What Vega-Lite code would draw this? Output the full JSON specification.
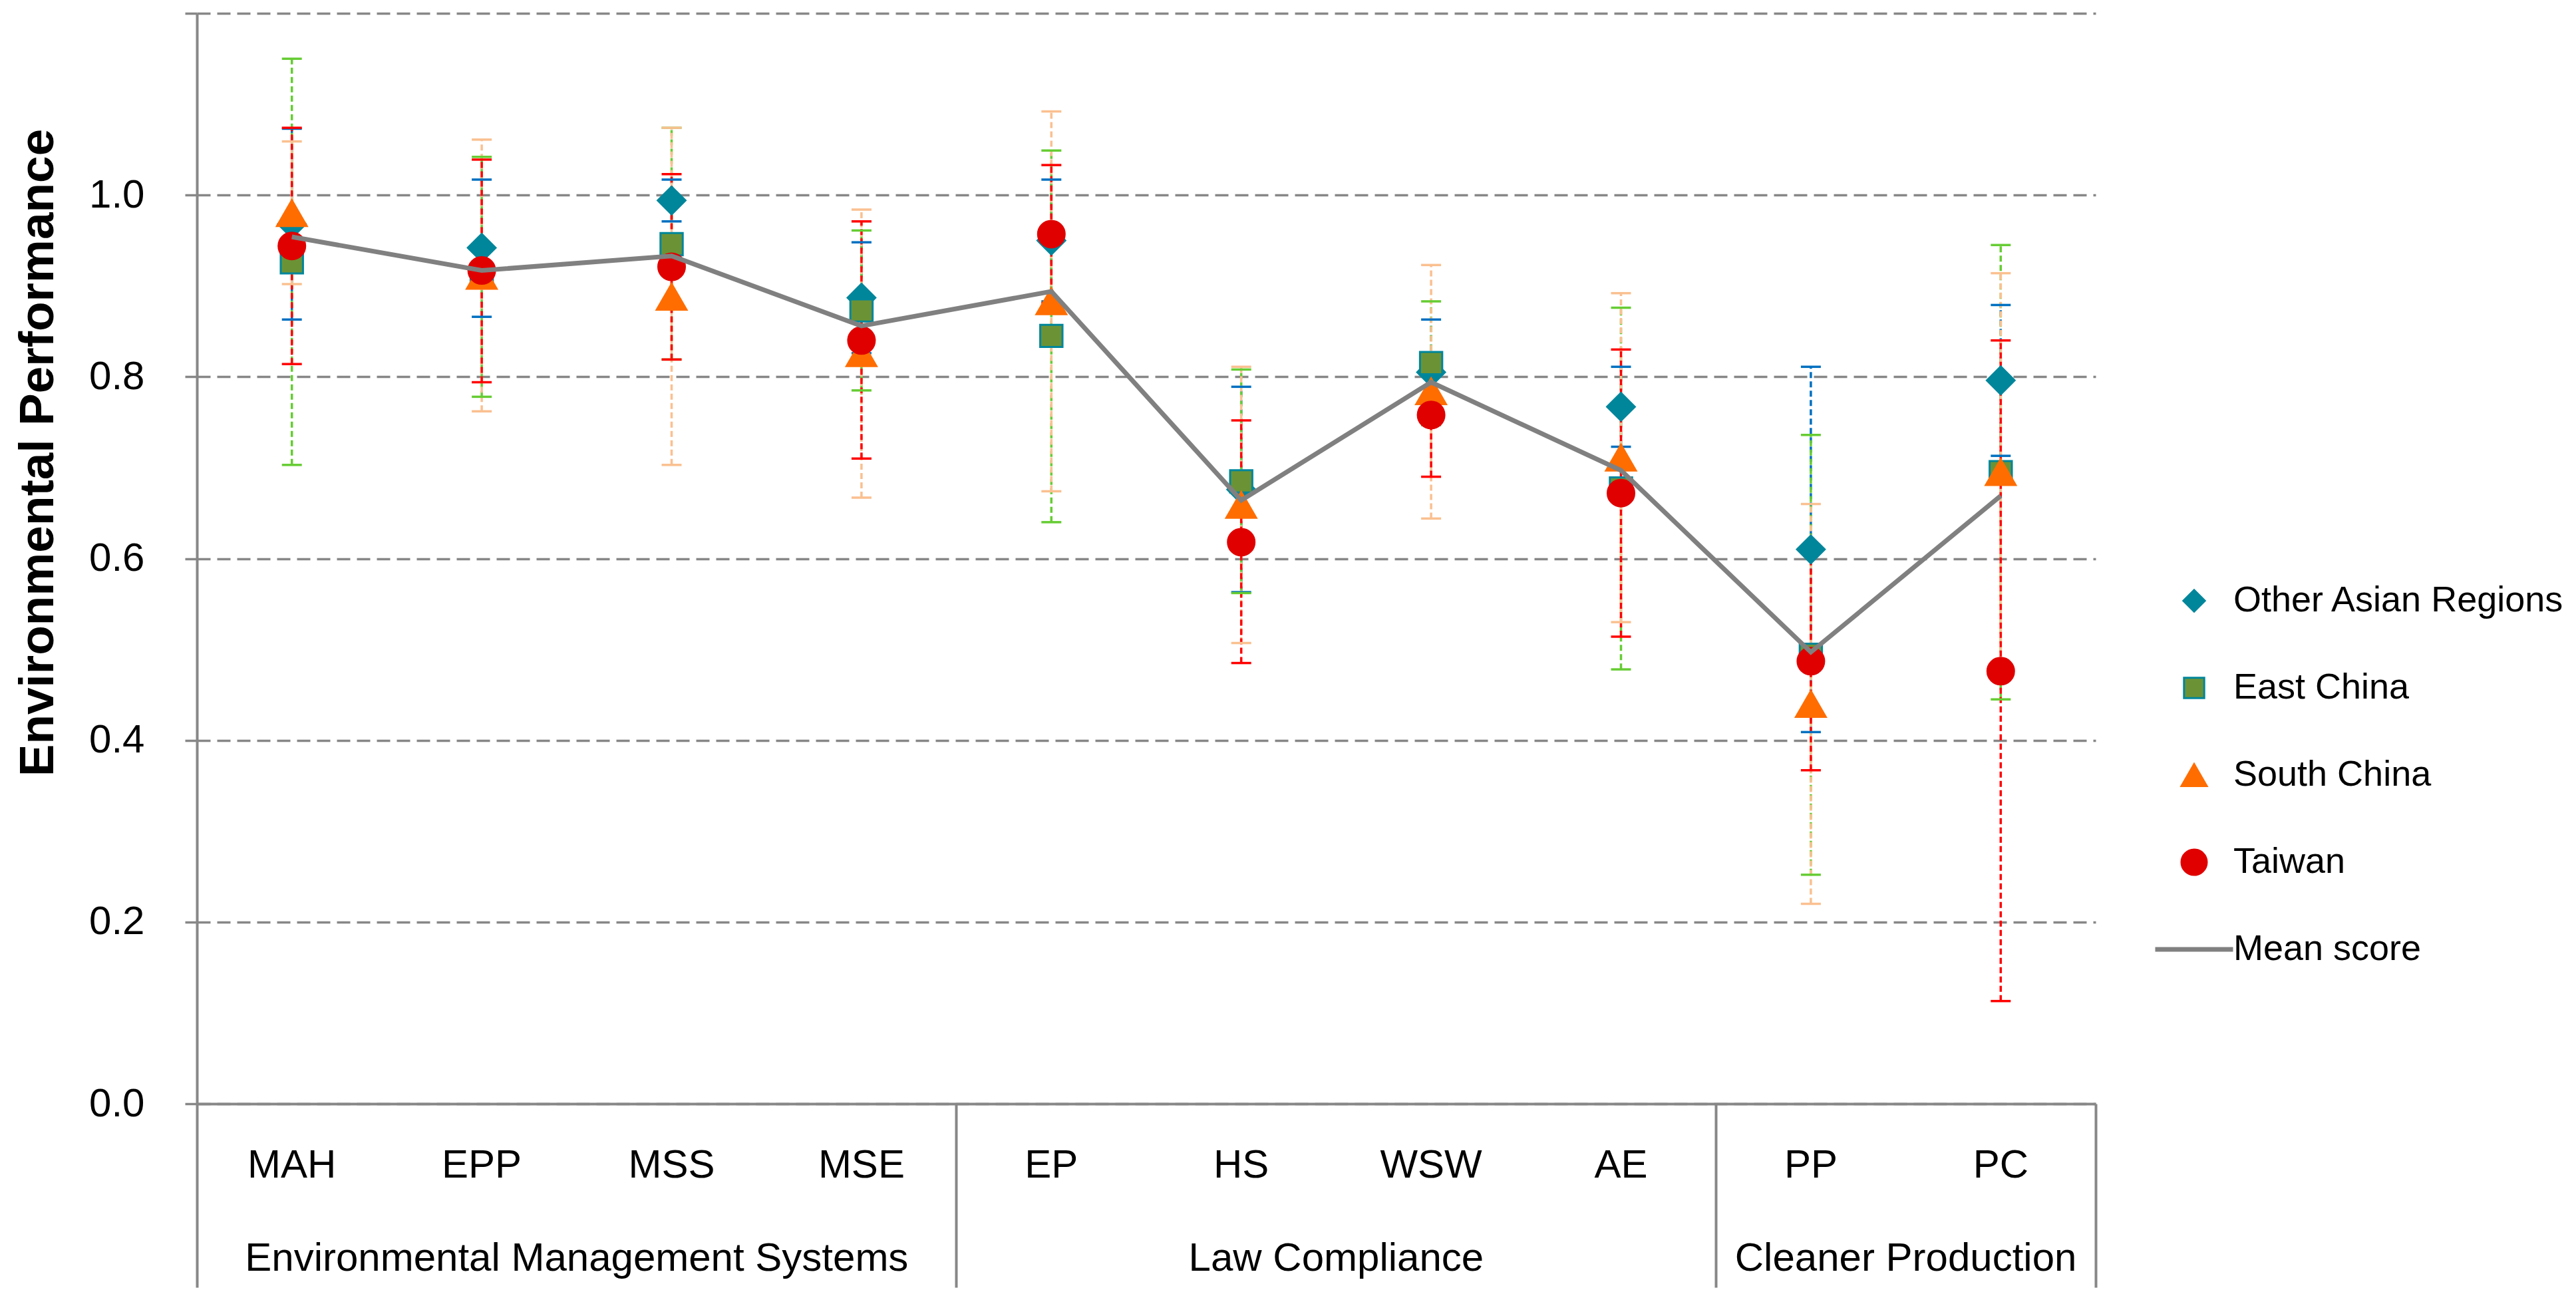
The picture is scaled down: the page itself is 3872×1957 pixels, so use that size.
{
  "$schema": "https://vega.github.io/schema/vega-lite/v6.json",
  "width": 2854,
  "height": 1639,
  "autosize": {"type": "none"},
  "padding": {"left": 296, "top": 20, "right": 722, "bottom": 298},
  "background": "white",
  "config": {"view": {"stroke": null}, "font": "Liberation Sans"},
  "datasets": {
    "pts": [
      {"category": "MAH", "series": "Other Asian Regions", "value": 0.968, "lo": 0.863, "hi": 1.073},
      {"category": "MAH", "series": "East China", "value": 0.926, "lo": 0.703, "hi": 1.150},
      {"category": "MAH", "series": "South China", "value": 0.980, "lo": 0.902, "hi": 1.059},
      {"category": "MAH", "series": "Taiwan", "value": 0.944, "lo": 0.814, "hi": 1.074},
      {"category": "EPP", "series": "Other Asian Regions", "value": 0.942, "lo": 0.866, "hi": 1.017},
      {"category": "EPP", "series": "East China", "value": 0.910, "lo": 0.778, "hi": 1.042},
      {"category": "EPP", "series": "South China", "value": 0.911, "lo": 0.762, "hi": 1.061},
      {"category": "EPP", "series": "Taiwan", "value": 0.917, "lo": 0.794, "hi": 1.039},
      {"category": "MSS", "series": "Other Asian Regions", "value": 0.994, "lo": 0.971, "hi": 1.017},
      {"category": "MSS", "series": "East China", "value": 0.946, "lo": 0.819, "hi": 1.074},
      {"category": "MSS", "series": "South China", "value": 0.888, "lo": 0.703, "hi": 1.074},
      {"category": "MSS", "series": "Taiwan", "value": 0.921, "lo": 0.819, "hi": 1.023},
      {"category": "MSE", "series": "Other Asian Regions", "value": 0.887, "lo": 0.826, "hi": 0.948},
      {"category": "MSE", "series": "East China", "value": 0.873, "lo": 0.785, "hi": 0.961},
      {"category": "MSE", "series": "South China", "value": 0.826, "lo": 0.667, "hi": 0.984},
      {"category": "MSE", "series": "Taiwan", "value": 0.840, "lo": 0.710, "hi": 0.971},
      {"category": "EP", "series": "Other Asian Regions", "value": 0.950, "lo": 0.883, "hi": 1.017},
      {"category": "EP", "series": "East China", "value": 0.845, "lo": 0.640, "hi": 1.049},
      {"category": "EP", "series": "South China", "value": 0.883, "lo": 0.674, "hi": 1.092},
      {"category": "EP", "series": "Taiwan", "value": 0.957, "lo": 0.881, "hi": 1.033},
      {"category": "HS", "series": "Other Asian Regions", "value": 0.676, "lo": 0.563, "hi": 0.789},
      {"category": "HS", "series": "East China", "value": 0.685, "lo": 0.562, "hi": 0.808},
      {"category": "HS", "series": "South China", "value": 0.659, "lo": 0.507, "hi": 0.811},
      {"category": "HS", "series": "Taiwan", "value": 0.618, "lo": 0.485, "hi": 0.752},
      {"category": "WSW", "series": "Other Asian Regions", "value": 0.805, "lo": 0.747, "hi": 0.863},
      {"category": "WSW", "series": "East China", "value": 0.815, "lo": 0.747, "hi": 0.883},
      {"category": "WSW", "series": "South China", "value": 0.784, "lo": 0.644, "hi": 0.923},
      {"category": "WSW", "series": "Taiwan", "value": 0.758, "lo": 0.690, "hi": 0.826},
      {"category": "AE", "series": "Other Asian Regions", "value": 0.767, "lo": 0.723, "hi": 0.811},
      {"category": "AE", "series": "East China", "value": 0.677, "lo": 0.478, "hi": 0.876},
      {"category": "AE", "series": "South China", "value": 0.711, "lo": 0.530, "hi": 0.892},
      {"category": "AE", "series": "Taiwan", "value": 0.672, "lo": 0.514, "hi": 0.830},
      {"category": "PP", "series": "Other Asian Regions", "value": 0.610, "lo": 0.409, "hi": 0.811},
      {"category": "PP", "series": "East China", "value": 0.494, "lo": 0.252, "hi": 0.736},
      {"category": "PP", "series": "South China", "value": 0.440, "lo": 0.220, "hi": 0.660},
      {"category": "PP", "series": "Taiwan", "value": 0.487, "lo": 0.367, "hi": 0.606},
      {"category": "PC", "series": "Other Asian Regions", "value": 0.796, "lo": 0.713, "hi": 0.879},
      {"category": "PC", "series": "East China", "value": 0.695, "lo": 0.445, "hi": 0.945},
      {"category": "PC", "series": "South China", "value": 0.695, "lo": 0.476, "hi": 0.914},
      {"category": "PC", "series": "Taiwan", "value": 0.476, "lo": 0.113, "hi": 0.840}
    ],
    "mean": [
      {"category": "MAH", "mean": 0.954},
      {"category": "EPP", "mean": 0.917},
      {"category": "MSS", "mean": 0.933},
      {"category": "MSE", "mean": 0.856},
      {"category": "EP", "mean": 0.894},
      {"category": "HS", "mean": 0.664},
      {"category": "WSW", "mean": 0.794},
      {"category": "AE", "mean": 0.697},
      {"category": "PP", "mean": 0.497},
      {"category": "PC", "mean": 0.669}
    ]
  },
  "resolve": {"axis": {"x": "independent"}},
  "layer": [
    {
      "data": {"name": "pts"},
      "mark": {"type": "rule", "strokeWidth": 3.5, "strokeDash": [9, 5]},
      "encoding": {
        "x": {"field": "category", "type": "nominal", "scale": {"type": "band", "domain": ["MAH", "EPP", "MSS", "MSE", "EP", "HS", "WSW", "AE", "PP", "PC"], "paddingInner": 0, "paddingOuter": 0}, "axis": null},
        "y": {"field": "lo", "type": "quantitative", "scale": {"domain": [0, 1.2], "nice": false},
          "axis": {"orient": "left", "values": [0, 0.2, 0.4, 0.6, 0.8, 1.0, 1.2], "format": ".1f", "labelExpr": "datum.value > 1.1 ? '' : datum.label",
            "title": "Environmental Performance", "titleFont": "Liberation Sans", "titleFontSize": 73, "titleFontWeight": "bold", "titleColor": "black",
            "titleX": -217, "titleY": 660, "titleAngle": -90, "titleBaseline": "alphabetic", "titleAlign": "center",
            "labelFont": "Liberation Sans", "labelFontSize": 60, "labelColor": "black", "labelPadding": 61,
            "tickSize": 18, "tickColor": "#878787", "tickWidth": 3.5, "domainColor": "#878787", "domainWidth": 4,
            "grid": true, "gridColor": "#878787", "gridDash": [20, 10], "gridWidth": 3.5, "gridOpacity": 1}},
        "y2": {"field": "hi"},
        "stroke": {"condition": [
          {"test": "datum.series === 'Other Asian Regions'", "value": "#0070C0"},
          {"test": "datum.series === 'East China'", "value": "#66CC33"},
          {"test": "datum.series === 'South China'", "value": "#FAC090"}
        ], "value": "#FF0000"}
      }
    },
    {
      "data": {"name": "pts"},
      "mark": {"type": "tick", "orient": "horizontal", "size": 30, "thickness": 3.5, "opacity": 1},
      "encoding": {
        "x": {"field": "category", "type": "nominal", "scale": {"type": "band", "domain": ["MAH", "EPP", "MSS", "MSE", "EP", "HS", "WSW", "AE", "PP", "PC"], "paddingInner": 0, "paddingOuter": 0}, "axis": null},
        "y": {"field": "lo", "type": "quantitative", "scale": {"domain": [0, 1.2], "nice": false},
          "axis": {"orient": "left", "values": [0, 0.2, 0.4, 0.6, 0.8, 1.0, 1.2], "format": ".1f", "labelExpr": "datum.value > 1.1 ? '' : datum.label",
            "title": "Environmental Performance", "titleFont": "Liberation Sans", "titleFontSize": 73, "titleFontWeight": "bold", "titleColor": "black",
            "titleX": -217, "titleY": 660, "titleAngle": -90, "titleBaseline": "alphabetic", "titleAlign": "center",
            "labelFont": "Liberation Sans", "labelFontSize": 60, "labelColor": "black", "labelPadding": 61,
            "tickSize": 18, "tickColor": "#878787", "tickWidth": 3.5, "domainColor": "#878787", "domainWidth": 4,
            "grid": true, "gridColor": "#878787", "gridDash": [20, 10], "gridWidth": 3.5, "gridOpacity": 1}},
        "color": {"condition": [
          {"test": "datum.series === 'Other Asian Regions'", "value": "#0070C0"},
          {"test": "datum.series === 'East China'", "value": "#66CC33"},
          {"test": "datum.series === 'South China'", "value": "#FAC090"}
        ], "value": "#FF0000"}
      }
    },
    {
      "data": {"name": "pts"},
      "mark": {"type": "tick", "orient": "horizontal", "size": 30, "thickness": 3.5, "opacity": 1},
      "encoding": {
        "x": {"field": "category", "type": "nominal", "scale": {"type": "band", "domain": ["MAH", "EPP", "MSS", "MSE", "EP", "HS", "WSW", "AE", "PP", "PC"], "paddingInner": 0, "paddingOuter": 0}, "axis": null},
        "y": {"field": "hi", "type": "quantitative", "scale": {"domain": [0, 1.2], "nice": false},
          "axis": {"orient": "left", "values": [0, 0.2, 0.4, 0.6, 0.8, 1.0, 1.2], "format": ".1f", "labelExpr": "datum.value > 1.1 ? '' : datum.label",
            "title": "Environmental Performance", "titleFont": "Liberation Sans", "titleFontSize": 73, "titleFontWeight": "bold", "titleColor": "black",
            "titleX": -217, "titleY": 660, "titleAngle": -90, "titleBaseline": "alphabetic", "titleAlign": "center",
            "labelFont": "Liberation Sans", "labelFontSize": 60, "labelColor": "black", "labelPadding": 61,
            "tickSize": 18, "tickColor": "#878787", "tickWidth": 3.5, "domainColor": "#878787", "domainWidth": 4,
            "grid": true, "gridColor": "#878787", "gridDash": [20, 10], "gridWidth": 3.5, "gridOpacity": 1}},
        "color": {"condition": [
          {"test": "datum.series === 'Other Asian Regions'", "value": "#0070C0"},
          {"test": "datum.series === 'East China'", "value": "#66CC33"},
          {"test": "datum.series === 'South China'", "value": "#FAC090"}
        ], "value": "#FF0000"}
      }
    },
    {
      "data": {"name": "pts"},
      "mark": {"type": "point", "filled": true, "opacity": 1, "strokeWidth": 3},
      "encoding": {
        "x": {"field": "category", "type": "nominal", "scale": {"type": "band", "domain": ["MAH", "EPP", "MSS", "MSE", "EP", "HS", "WSW", "AE", "PP", "PC"], "paddingInner": 0, "paddingOuter": 0},
          "axis": {"orient": "bottom", "title": null, "domain": false, "ticks": false, "grid": false, "labelAngle": 0, "labelFont": "Liberation Sans", "labelFontSize": 60, "labelColor": "black", "labelPadding": 63, "labelOverlap": false, "labelLimit": 0}},
        "y": {"field": "value", "type": "quantitative", "scale": {"domain": [0, 1.2], "nice": false},
          "axis": {"orient": "left", "values": [0, 0.2, 0.4, 0.6, 0.8, 1.0, 1.2], "format": ".1f", "labelExpr": "datum.value > 1.1 ? '' : datum.label",
            "title": "Environmental Performance", "titleFont": "Liberation Sans", "titleFontSize": 73, "titleFontWeight": "bold", "titleColor": "black",
            "titleX": -217, "titleY": 660, "titleAngle": -90, "titleBaseline": "alphabetic", "titleAlign": "center",
            "labelFont": "Liberation Sans", "labelFontSize": 60, "labelColor": "black", "labelPadding": 61,
            "tickSize": 18, "tickColor": "#878787", "tickWidth": 3.5, "domainColor": "#878787", "domainWidth": 4,
            "grid": true, "gridColor": "#878787", "gridDash": [20, 10], "gridWidth": 3.5, "gridOpacity": 1}},
        "shape": {"field": "series", "type": "nominal",
          "scale": {"domain": ["Other Asian Regions", "East China", "South China", "Taiwan", "Mean score"],
            "range": ["M-0.85,0L0,-0.85L0.85,0L0,0.85Z", "M-0.8,-0.8L0.8,-0.8L0.8,0.8L-0.8,0.8Z", "triangle-up", "circle", "M-3,-0.1L3,-0.1L3,0.1L-3,0.1Z"]},
          "legend": {"title": null, "orient": "none", "legendX": 2975, "legendY": 856, "padding": 0,
            "labelFont": "Liberation Sans", "labelFontSize": 54, "labelColor": "black", "labelLimit": 0,
            "symbolSize": 1444, "labelOffset": 32, "rowPadding": 77, "symbolStrokeWidth": 3, "symbolOpacity": 1}},
        "fill": {"field": "series", "type": "nominal",
          "scale": {"domain": ["Other Asian Regions", "East China", "South China", "Taiwan", "Mean score"], "range": ["#00869B", "#6B9336", "#FF6D00", "#E00000", "#808080"]}},
        "stroke": {"field": "series", "type": "nominal",
          "scale": {"domain": ["Other Asian Regions", "East China", "South China", "Taiwan", "Mean score"], "range": ["#00869B", "#00869B", "#FF6D00", "#E00000", "#808080"]}},
        "size": {"condition": [
          {"test": "datum.series === 'Other Asian Regions'", "value": 2400},
          {"test": "datum.series === 'East China'", "value": 1750},
          {"test": "datum.series === 'South China'", "value": 2000}
        ], "value": 1600}
      }
    },
    {
      "data": {"name": "mean"},
      "mark": {"type": "line", "color": "#808080", "strokeWidth": 7},
      "encoding": {
        "x": {"field": "category", "type": "nominal", "scale": {"type": "band", "domain": ["MAH", "EPP", "MSS", "MSE", "EP", "HS", "WSW", "AE", "PP", "PC"], "paddingInner": 0, "paddingOuter": 0},
          "axis": {"orient": "bottom", "title": null, "values": ["MAH", "EPP", "MSE", "HS", "AE", "PP", "PC"], "bandPosition": 1, "tickExtra": true,
            "labelExpr": "datum.value === 'EPP' ? 'Environmental Management Systems' : datum.value === 'HS' ? 'Law Compliance' : datum.value === 'PP' ? 'Cleaner Production' : ''",
            "labelOffset": 142.7,
            "domain": true, "domainColor": "#878787", "domainWidth": 4,
            "ticks": true, "tickSize": 276, "tickColor": "#878787", "tickWidth": 4,
            "tickOpacity": {"condition": {"test": "datum.value === 'MSE' || datum.value === 'AE' || datum.value === 'PC' || !isValid(datum.value)", "value": 1}, "value": 0},
            "grid": false, "labelAngle": 0, "labelFont": "Liberation Sans", "labelFontSize": 60, "labelColor": "black", "labelPadding": -73, "labelOverlap": false, "labelLimit": 0}},
        "y": {"field": "mean", "type": "quantitative", "scale": {"domain": [0, 1.2], "nice": false},
          "axis": {"orient": "left", "values": [0, 0.2, 0.4, 0.6, 0.8, 1.0, 1.2], "format": ".1f", "labelExpr": "datum.value > 1.1 ? '' : datum.label",
            "title": "Environmental Performance", "titleFont": "Liberation Sans", "titleFontSize": 73, "titleFontWeight": "bold", "titleColor": "black",
            "titleX": -217, "titleY": 660, "titleAngle": -90, "titleBaseline": "alphabetic", "titleAlign": "center",
            "labelFont": "Liberation Sans", "labelFontSize": 60, "labelColor": "black", "labelPadding": 61,
            "tickSize": 18, "tickColor": "#878787", "tickWidth": 3.5, "domainColor": "#878787", "domainWidth": 4,
            "grid": true, "gridColor": "#878787", "gridDash": [20, 10], "gridWidth": 3.5, "gridOpacity": 1}},
        "order": {"value": null}
      }
    }
  ]
}
